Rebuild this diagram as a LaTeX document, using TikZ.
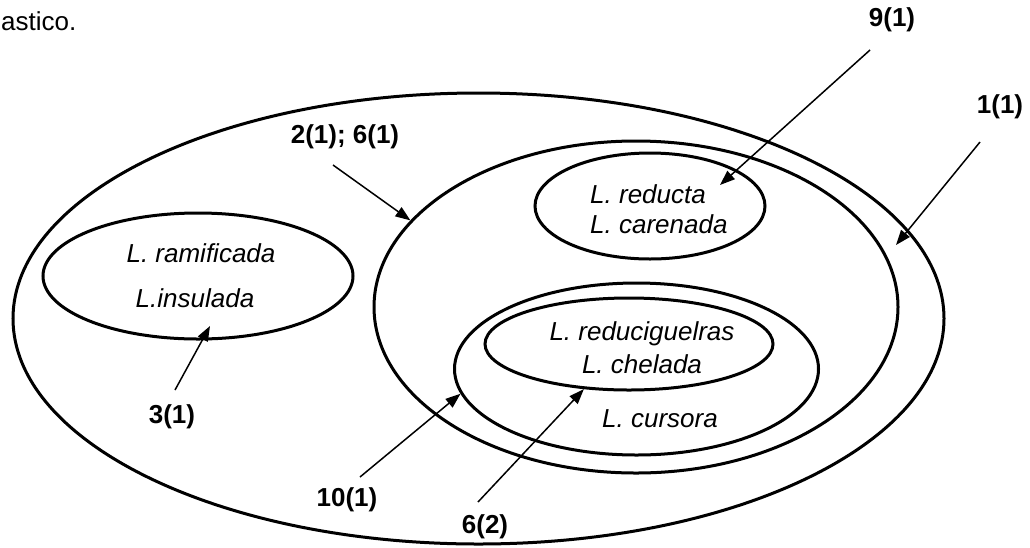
\documentclass[tikz,border=0pt]{standalone}
\usepackage{fontspec}
\setmainfont{Liberation Sans}
\usetikzlibrary{arrows.meta,shapes.geometric}

\tikzset{
  setline/.style={draw, ellipse, line width=3pt, inner sep=0pt},
  taxon/.style={font=\fontsize{26}{30}\selectfont\itshape, inner sep=0pt, anchor=base},
  lbl/.style={font=\fontsize{26}{30}\selectfont\bfseries, inner sep=0pt},
  ptr/.style={-{Triangle[length=15pt,width=11pt]}, line width=1.5pt},
}

\begin{document}
\begin{tikzpicture}[x=1pt,y=-1pt]
  \useasboundingbox (0,0) rectangle (1030,547);

  \node[font=\fontsize{26}{30}\selectfont, anchor=base west, inner sep=0pt] (cap) at (1,30) {astico.};

  % conjuntos
  \node[setline, minimum width=931, minimum height=451] (ctodas) at (478.5,318.5) {};
  \node[setline, minimum width=310, minimum height=126] (cramif) at (198,276) {};
  \node[setline, minimum width=524, minimum height=332] (cmedio) at (636,307) {};
  \node[setline, minimum width=230, minimum height=106] (creducta) at (650,206) {};
  \node[setline, minimum width=364, minimum height=172] (ccursora) at (636.5,369) {};
  \node[setline, minimum width=288, minimum height=92] (cchelada) at (629,344) {};

  % especies
  \node[taxon] (tramif) at (201,262) {L. ramificada};
  \node[taxon] (tinsul) at (195,307) {L.insulada};
  \node[taxon, anchor=base west] (treducta) at (590,203) {L. reducta};
  \node[taxon, anchor=base west] (tcarenada) at (590,233) {L. carenada};
  \node[taxon] (treducig) at (642,340) {L. reduciguelras};
  \node[taxon] (tchelada) at (642,373) {L. chelada};
  \node[taxon] (tcursora) at (660,427) {L. cursora};

  % caracteres
  \node[lbl] (l91) at (892,20) {9(1)};
  \node[lbl] (l11) at (1000,107) {1(1)};
  \node[lbl] (l2161) at (345,137) {2(1); 6(1)};
  \node[lbl] (l31) at (172,417) {3(1)};
  \node[lbl] (l101) at (347,500) {10(1)};
  \node[lbl] (l62) at (485,527) {6(2)};

  \coordinate (a91) at (870,50);
  \coordinate (b91) at (720,185);
  \coordinate (a11) at (980,142);
  \coordinate (b11) at (896,245);
  \coordinate (a2161) at (333,165);
  \coordinate (a31) at (175,390);
  \coordinate (b31) at (210,326);
  \coordinate (a101) at (360,477);
  \coordinate (a62) at (478,502);

  \draw[ptr] (a91) -- (b91);
  \draw[ptr] (a11) -- (b11);
  \draw[ptr] (a2161) -- (cmedio.159.6);
  \draw[ptr] (a31) -- (b31);
  \draw[ptr] (a101) -- (ccursora.188.65);
  \draw[ptr] (a62) -- (cchelada.225);
\end{tikzpicture}
\end{document}
